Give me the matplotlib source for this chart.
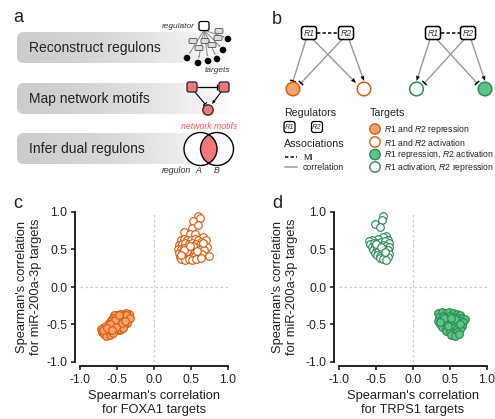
import matplotlib
matplotlib.use('Agg')
import matplotlib.pyplot as plt
from matplotlib.patches import FancyBboxPatch, Circle, Polygon
import numpy as np

plt.rcParams['font.family'] = ['Liberation Sans', 'DejaVu Sans']
plt.rcParams['mathtext.fontset'] = 'custom'
plt.rcParams['mathtext.rm'] = 'Liberation Sans'
plt.rcParams['mathtext.it'] = 'Liberation Sans:italic'

# ---------------- data ----------------
ticks = [-1.0, -0.5, 0.0, 0.5, 1.0]
tick_labels = ['-1.0', '-0.5', '0.0', '0.5', '1.0']

steps_a = ['Reconstruct regulons', 'Map network motifs', 'Infer dual regulons']

legend_targets = [r'$\it{R1}$ and $\it{R2}$ repression',
                  r'$\it{R1}$ and $\it{R2}$ activation',
                  r'$\it{R1}$ repression, $\it{R2}$ activation',
                  r'$\it{R1}$ activation, $\it{R2}$ repression']

# panel c: FOXA1 (x) vs miR-200a-3p (y)
c_rep_x = [-0.34,-0.38,-0.42,-0.46,-0.50,-0.54,-0.36,-0.40,-0.44,-0.48,-0.52,-0.56,-0.58,-0.35,-0.39,
           -0.43,-0.47,-0.51,-0.55,-0.60,-0.62,-0.37,-0.41,-0.45,-0.49,-0.53,-0.57,-0.64,-0.68,-0.71,
           -0.40,-0.44,-0.48,-0.52,-0.56,-0.60,-0.66,-0.70,-0.46,-0.50,-0.54,-0.58,-0.62,-0.67,-0.65,
           -0.60,-0.55,-0.42,-0.38,-0.33,-0.61,-0.53,-0.47,-0.43,-0.59,-0.69,-0.63,-0.51,-0.57,-0.39]
c_rep_y = [-0.36,-0.35,-0.36,-0.36,-0.37,-0.38,-0.40,-0.39,-0.40,-0.41,-0.42,-0.41,-0.44,-0.44,-0.43,
           -0.44,-0.45,-0.46,-0.47,-0.47,-0.50,-0.48,-0.47,-0.49,-0.50,-0.51,-0.52,-0.53,-0.54,-0.56,
           -0.51,-0.53,-0.54,-0.55,-0.56,-0.56,-0.58,-0.60,-0.57,-0.58,-0.59,-0.60,-0.61,-0.63,-0.66,
           -0.64,-0.62,-0.55,-0.37,-0.41,-0.58,-0.44,-0.38,-0.48,-0.49,-0.57,-0.55,-0.53,-0.57,-0.46]
c_act_x = [0.59,0.53,0.62,0.52,0.60,0.41,0.48,0.56,0.66,0.70,0.36,0.40,0.45,0.50,0.55,0.60,0.64,
           0.34,0.38,0.42,0.47,0.52,0.57,0.62,0.67,0.72,0.33,0.37,0.41,0.45,0.49,0.53,0.58,0.63,
           0.68,0.34,0.38,0.42,0.46,0.50,0.55,0.60,0.65,0.74,0.35,0.39,0.43,0.47,0.51,0.56,0.61,
           0.37,0.42,0.47,0.52,0.57,0.63,0.44,0.53,0.40,0.58,0.49,0.36,0.66]
c_act_y = [0.94,0.88,0.92,0.78,0.83,0.73,0.70,0.70,0.66,0.62,0.62,0.64,0.63,0.62,0.64,0.62,0.60,
           0.56,0.57,0.58,0.57,0.58,0.57,0.56,0.55,0.53,0.50,0.51,0.52,0.51,0.52,0.51,0.52,0.50,
           0.49,0.45,0.46,0.45,0.46,0.45,0.46,0.45,0.44,0.41,0.40,0.41,0.40,0.41,0.40,0.41,0.40,
           0.37,0.36,0.37,0.36,0.37,0.38,0.48,0.54,0.49,0.48,0.55,0.43,0.58]

# panel d: TRPS1 (x) vs miR-200a-3p (y)
d_act_x = [-0.41,-0.42,-0.51,-0.45,-0.36,-0.40,-0.47,-0.55,-0.60,-0.34,-0.58,-0.53,-0.48,-0.43,
           -0.38,-0.33,-0.56,-0.51,-0.46,-0.41,-0.36,-0.32,-0.54,-0.49,-0.44,-0.39,-0.34,-0.52,
           -0.47,-0.42,-0.37,-0.33,-0.49,-0.44,-0.39,-0.34,-0.45,-0.40,-0.36,-0.50,-0.43,-0.38]
d_act_y = [0.94,0.89,0.84,0.80,0.68,0.66,0.64,0.62,0.61,0.63,0.57,0.58,0.59,0.60,0.61,0.58,0.53,
           0.54,0.55,0.56,0.55,0.53,0.49,0.50,0.51,0.50,0.49,0.45,0.46,0.46,0.45,0.44,0.42,0.41,
           0.41,0.40,0.38,0.37,0.36,0.57,0.53,0.47]
d_rep_x = [0.34,0.39,0.44,0.49,0.54,0.59,0.64,0.35,0.40,0.45,0.50,0.55,0.60,0.66,0.70,0.34,0.38,
           0.43,0.48,0.53,0.58,0.63,0.68,0.36,0.41,0.46,0.51,0.56,0.61,0.66,0.39,0.44,0.49,0.54,
           0.59,0.64,0.45,0.50,0.55,0.60,0.52,0.57,0.62,0.42,0.57,0.47,0.37,0.63,0.52]
d_rep_y = [-0.35,-0.34,-0.35,-0.34,-0.35,-0.36,-0.37,-0.40,-0.39,-0.40,-0.39,-0.40,-0.41,-0.42,
           -0.43,-0.45,-0.44,-0.45,-0.44,-0.45,-0.46,-0.46,-0.47,-0.50,-0.49,-0.50,-0.49,-0.50,
           -0.51,-0.52,-0.54,-0.55,-0.54,-0.55,-0.56,-0.56,-0.59,-0.60,-0.61,-0.60,-0.64,-0.66,
           -0.63,-0.42,-0.43,-0.52,-0.47,-0.49,-0.42]

# ---------------- style ----------------
OR_E, OR_F = '#d95f0e', '#f7a36e'
GR_E, GR_F = '#2e8b57', '#5cc584'
SALMON = '#f47878'
TXT = '#222222'
LGRAY = '#999999'

W, H = 495, 419
fig = plt.figure(figsize=(W / 100, H / 100), dpi=100)
ov = fig.add_axes([0, 0, 1, 1])
ov.axis('off')


def tbar(x0, y0, x1, y1, color=LGRAY, lw=1.0, blen=6, bcolor='black', blw=1.1):
    ov.plot([x0, x1], [y0, y1], color=color, lw=lw, solid_capstyle='butt', zorder=3)
    d = np.array([x1 - x0, y1 - y0], float)
    d /= np.hypot(*d)
    p = np.array([-d[1], d[0]])
    ov.plot([x1 - p[0] * blen / 2, x1 + p[0] * blen / 2],
            [y1 - p[1] * blen / 2, y1 + p[1] * blen / 2], color=bcolor, lw=blw,
            solid_capstyle='butt', zorder=4)


def arrow(x0, y0, x1, y1, color=LGRAY, lw=1.0, hl=5, hw=4, hcolor='black'):
    d = np.array([x1 - x0, y1 - y0], float)
    d /= np.hypot(*d)
    p = np.array([-d[1], d[0]])
    bx, by = x1 - d[0] * hl, y1 - d[1] * hl
    ov.plot([x0, bx], [y0, by], color=color, lw=lw, solid_capstyle='butt', zorder=3)
    ov.add_patch(Polygon([[x1, y1], [bx + p[0] * hw / 2, by + p[1] * hw / 2],
                          [bx - p[0] * hw / 2, by - p[1] * hw / 2]], closed=True,
                         fc=hcolor, ec='none', zorder=4))


def rbox(cx, cy, w, h, fc='white', ec='black', lw=1.0, r=2.5, z=5):
    ov.add_patch(FancyBboxPatch((cx - w / 2, cy - h / 2), w, h,
                                boxstyle='round,pad=0,rounding_size=%g' % r,
                                fc=fc, ec=ec, lw=lw, zorder=z))


# ---------------- panel a ----------------
ov.text(13, 17, 'a', fontsize=13, color=TXT, ha='left', va='center')
grad = np.linspace(0, 1, 256)
grad = 0.80 + 0.20 * grad ** 1.6
grad = np.tile(grad, (8, 1))
for i, (label, y0) in enumerate(zip(steps_a, [32, 83, 133])):
    x0, x1, h = 17, 236, 31
    clip = FancyBboxPatch((x0, y0), x1 - x0, h, boxstyle='round,pad=0,rounding_size=7',
                          fc='none', ec='none', transform=ov.transData)
    ov.add_patch(clip)
    im = ov.imshow(grad, extent=(x0, x1, y0 + h, y0), cmap='gray', vmin=0, vmax=1,
                   aspect='auto', interpolation='bilinear', zorder=1)
    im.set_clip_path(clip)
    ov.text(29, y0 + h / 2 + 0.5, label, fontsize=10, color=TXT, ha='left', va='center', zorder=6)

# regulon icon
ov.text(195, 26, 'regulator', fontsize=6.0, style='italic', color='#333333', ha='right', va='center',
        zorder=8)
reg = (204, 26)
dots = [(187, 58), (198, 63), (208, 61), (217, 59), (223, 50), (228, 39)]
for (dx, dy) in dots:
    arrow(reg[0], reg[1] + 4, dx + (reg[0] - dx) * 0.12, dy + (reg[1] - dy) * 0.12,
          color='#888888', lw=0.7, hl=2.5, hw=2.2, hcolor='#888888')
    ov.add_patch(Circle((dx, dy), 3.3, fc='black', ec='none', zorder=5))
for (bx, by) in [(193, 41), (205, 41), (218, 38), (219, 31), (199, 48), (212, 45)]:
    rbox(bx, by, 8, 5, fc='#dddddd', ec='#333333', lw=0.5, r=1.2, z=6)
rbox(reg[0], reg[1], 10, 9, fc='white', ec='black', lw=0.9, r=2, z=7)
ov.text(217, 71, 'targets', fontsize=6.0, style='italic', color='#333333', ha='center', va='center')

# motif icon
tbar(197, 87, 217, 87, color='black', lw=0.9, blen=6, bcolor='black', blw=0.9)
tbar(195, 92, 205, 104, color='black', lw=0.8, blen=5, bcolor='black', blw=0.9)
arrow(221, 92, 212, 104, color='black', lw=0.8, hl=4, hw=3.5, hcolor='black')
rbox(192, 87, 10, 10, fc=SALMON, ec='#222222', lw=0.9, r=2, z=7)
rbox(224, 87, 10, 10, fc=SALMON, ec='#222222', lw=0.9, r=2, z=7)
ov.add_patch(Circle((208, 110), 5.2, fc=SALMON, ec='#222222', lw=0.9, zorder=7))
ov.text(209, 126, 'network motifs', fontsize=6.3, style='italic', color='#ff4f5e',
        ha='center', va='center')

# venn
c1 = Circle((200.5, 149), 16.5, fc='white', ec='none', zorder=4)
ov.add_patch(c1)
lens = Circle((217, 149), 16.5, fc=SALMON, ec='none', zorder=5)
ov.add_patch(lens)
lens.set_clip_path(c1)
ov.add_patch(Circle((200.5, 149), 16.5, fc='none', ec='black', lw=1.0, zorder=6))
ov.add_patch(Circle((217, 149), 16.5, fc='none', ec='black', lw=1.0, zorder=6))
ov.text(191, 170, 'regulon', fontsize=6.3, style='italic', color='#333333', ha='right', va='center')
ov.text(198, 170, 'A', fontsize=6.3, style='italic', color='#333333', ha='center', va='center')
ov.text(217, 170, 'B', fontsize=6.3, style='italic', color='#333333', ha='center', va='center')

# ---------------- panel b ----------------
ov.text(272, 20, 'b', fontsize=13, color=TXT, ha='left', va='center')


def rlabel(cx, cy, s, w=15, h=13, fs=6.2, lw=1.1):
    rbox(cx, cy, w, h, fc='white', ec='black', lw=lw, r=2.5, z=7)
    ov.text(cx, cy, s, fontsize=fs, style='italic', color='#333333', ha='center', va='center', zorder=8)


def motif(r1, r2, t1, t2, t1_style, t2_style):
    ov.plot([r1[0] + 8, r2[0] - 8], [r1[1], r2[1]], color='black', lw=1.1, ls=(0, (2.2, 1.4)), zorder=3)
    (tbar if t1_style[0] == 'T' else arrow)(r1[0] - 3, r1[1] + 6.5, t1[0], t1[1] - 8)
    (tbar if t1_style[1] == 'T' else arrow)(r2[0] - 4, r2[1] + 6.5, t1[0] + 8, t1[1] - 6)
    (tbar if t2_style[0] == 'T' else arrow)(r1[0] + 4, r1[1] + 6.5, t2[0] - 8, t2[1] - 6)
    (tbar if t2_style[1] == 'T' else arrow)(r2[0] + 3, r2[1] + 6.5, t2[0], t2[1] - 8)
    rlabel(r1[0], r1[1], 'R1')
    rlabel(r2[0], r2[1], 'R2')


motif((309, 33), (346, 33), (293, 89), (364, 89), 'TT', 'AA')
ov.add_patch(Circle((293, 89), 6.8, fc=OR_F, ec=OR_E, lw=1.1, zorder=6))
ov.add_patch(Circle((364, 89), 6.8, fc='white', ec=OR_E, lw=1.1, zorder=6))
motif((433, 33), (468, 33), (416.5, 89), (485, 89), 'AT', 'TA')
ov.add_patch(Circle((416.5, 89), 6.8, fc='white', ec=GR_E, lw=1.1, zorder=6))
ov.add_patch(Circle((485, 89), 6.8, fc=GR_F, ec=GR_E, lw=1.1, zorder=6))

# legend
ov.text(284, 113, 'Regulators', fontsize=7.7, color=TXT, ha='left', va='center')
rlabel(289.5, 127, 'R1', w=11, h=11, fs=5.3, lw=0.9)
rlabel(317, 127, 'R2', w=11, h=11, fs=5.3, lw=0.9)
ov.text(284, 144, 'Associations', fontsize=7.7, color=TXT, ha='left', va='center')
ov.plot([285, 297], [157, 157], color='black', lw=1.1, ls=(0, (2.2, 1.4)))
ov.text(303, 157, 'MI', fontsize=6.3, color=TXT, ha='left', va='center')
ov.plot([285, 297], [167, 167], color=LGRAY, lw=1.1)
ov.text(303, 167, 'correlation', fontsize=6.3, color=TXT, ha='left', va='center')

ov.text(370, 113, 'Targets', fontsize=7.7, color=TXT, ha='left', va='center')
leg_style = [(OR_F, OR_E), ('white', OR_E), (GR_F, GR_E), ('white', GR_E)]
for (fc, ec), txt, yy in zip(leg_style, legend_targets, [129, 142, 154.5, 167]):
    ov.add_patch(Circle((375, yy), 5.2, fc=fc, ec=ec, lw=1.0, zorder=6))
    ov.text(384, yy, txt, fontsize=6.2, color=TXT, ha='left', va='center')

ov.set_xlim(0, W)
ov.set_ylim(H, 0)

# ---------------- panels c, d ----------------
ov.text(13, 203, 'c', fontsize=13, color=TXT, ha='left', va='center')
ov.text(272, 203, 'd', fontsize=13, color=TXT, ha='left', va='center')


def scatter_panel(x0px, xs_list, ylab_x, xlabel):
    ax = fig.add_axes([x0px / W, 1 - 362 / H, 148 / W, 150 / H])
    ax.set_xlim(-1, 1)
    ax.set_ylim(-1, 1)
    ax.patch.set_alpha(0)
    for s in ['top', 'right']:
        ax.spines[s].set_visible(False)
    ax.spines['left'].set_position(('outward', 3.6))
    ax.spines['bottom'].set_position(('outward', 3.0))
    for s in ['left', 'bottom']:
        ax.spines[s].set_linewidth(1.3)
        ax.spines[s].set_color('#111111')
    ax.set_xticks(ticks)
    ax.set_xticklabels(tick_labels)
    ax.set_yticks(ticks)
    ax.set_yticklabels(tick_labels)
    ax.tick_params(length=3, width=1.1, color='#111111', labelsize=8.7, labelcolor=TXT, pad=2.5)
    ax.axvline(0, color='#c8c8c8', lw=0.9, ls=(0, (2, 2)), zorder=1)
    ax.axhline(0, color='#c8c8c8', lw=0.9, ls=(0, (2, 2)), zorder=1)
    for (xs, ys, fc, ec) in xs_list:
        ax.scatter(xs, ys, s=30, facecolor=fc, edgecolor=ec, linewidth=0.85, zorder=3, clip_on=False)
    cx = (x0px + x0px + 148) / 2
    fig.text(ylab_x / W, 1 - 287 / H, "Spearman's correlation\nfor miR-200a-3p targets",
             rotation=90, ha='center', va='center', fontsize=9.3, color=TXT, linespacing=1.2)
    fig.text(cx / W, 1 - 403 / H, "Spearman's correlation\n" + xlabel,
             ha='center', va='center', fontsize=9.3, color=TXT, linespacing=1.2)
    return ax


scatter_panel(80, [(c_act_x, c_act_y, 'white', OR_E), (c_rep_x, c_rep_y, OR_F, OR_E)],
              29, 'for FOXA1 targets')
scatter_panel(339, [(d_act_x, d_act_y, 'white', GR_E), (d_rep_x, d_rep_y, GR_F, GR_E)],
              285, 'for TRPS1 targets')

fig.savefig('out.png', dpi=100)
